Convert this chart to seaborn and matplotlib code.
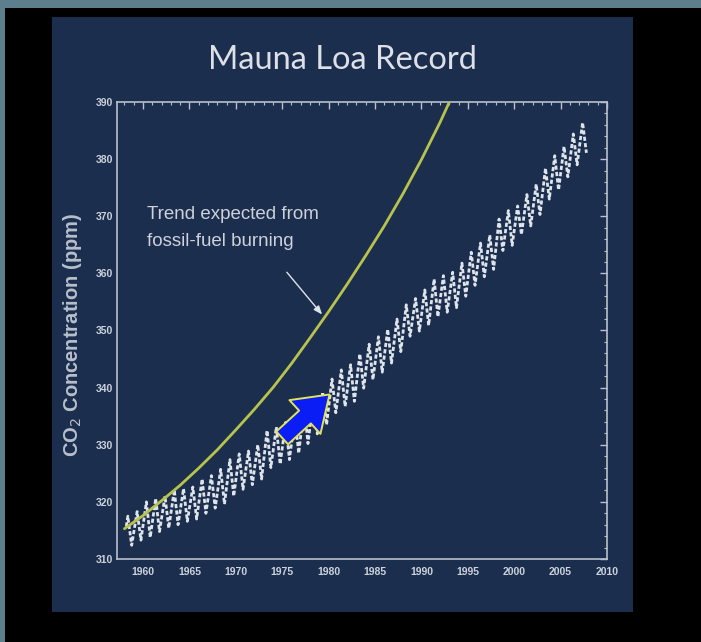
import numpy as np
import pandas as pd
import matplotlib
matplotlib.use("Agg")
import matplotlib.pyplot as plt
from matplotlib.patches import Rectangle
from matplotlib.ticker import MultipleLocator
import seaborn as sns

# ---------------- data ----------------
obs_years = list(range(1958, 2008))
# May maxima of the Mauna Loa record (ppm)
obs_peak = [317.5, 318.3, 320.0, 320.6, 321.0, 322.1, 322.3, 322.6, 324.0, 324.6,
            325.7, 327.4, 328.4, 328.9, 330.0, 332.5, 333.1, 333.9, 334.9, 336.9,
            338.2, 339.2, 341.5, 343.1, 344.0, 345.9, 347.6, 348.9, 350.2, 352.0,
            354.5, 355.6, 357.1, 359.0, 359.6, 360.2, 361.8, 363.7, 365.3, 366.7,
            369.5, 371.0, 371.8, 373.8, 375.6, 378.4, 380.6, 382.2, 384.4, 386.4]
# autumn minima (ppm)
obs_trough = [312.4, 313.3, 313.8, 314.8, 315.4, 316.0, 316.6, 317.0, 318.0, 318.9,
              319.6, 321.0, 322.2, 323.0, 324.0, 326.0, 326.6, 327.4, 328.5, 330.2,
              331.9, 333.5, 335.6, 336.7, 337.6, 339.9, 341.4, 342.7, 344.3, 346.3,
              349.0, 349.9, 350.9, 352.4, 353.2, 354.0, 356.0, 357.9, 359.4, 360.7,
              364.0, 364.9, 366.8, 368.3, 370.3, 373.0, 374.6, 376.9, 379.0, 381.1]
obs_start = (1958.2, 315.7)

trend_years = [1958, 1960, 1962, 1964, 1966, 1968, 1970, 1972, 1974, 1976,
               1978, 1980, 1982, 1984, 1986, 1988, 1990, 1992, 1994]
trend_ppm = [315.3, 317.6, 320.2, 322.9, 325.9, 329.1, 332.6, 336.2, 340.0, 344.2,
             348.7, 353.3, 358.1, 363.1, 368.3, 373.9, 379.9, 386.4, 393.5]

x_ticks = [1960, 1965, 1970, 1975, 1980, 1985, 1990, 1995, 2000, 2005, 2010]
y_ticks = [310, 320, 330, 340, 350, 360, 370, 380, 390]

# ---------------- tables ----------------
t_list, v_list = [obs_start[0]], [obs_start[1]]
for yr, pk, tr in zip(obs_years, obs_peak, obs_trough):
    t_list += [yr + 0.37, yr + 0.78]
    v_list += [pk, tr]
obs_df = pd.DataFrame({"year": t_list, "ppm": v_list})
trend_df = pd.DataFrame({"year": trend_years, "ppm": trend_ppm})

# ---------------- style ----------------
sns.set_style("dark")
plt.rcParams["font.family"] = ["Liberation Sans", "DejaVu Sans"]

NAVY = "#1c2e4e"
LIGHT = "#ccd2dc"

fig = plt.figure(figsize=(7.01, 6.42), dpi=100, facecolor="#5d7f8d")
W, H = 701, 642
# black frame
fig.patches.append(Rectangle((5 / W, 0), 1, 1 - 8 / H, transform=fig.transFigure,
                             facecolor="black", edgecolor="none", zorder=-3))
# navy slide panel
fig.patches.append(Rectangle((52 / W, 1 - 612 / H), (633 - 52) / W, (612 - 17) / H,
                             transform=fig.transFigure, facecolor=NAVY,
                             edgecolor="none", zorder=-2))

ax = fig.add_axes([117 / W, 1 - 559 / H, (607 - 117) / W, (559 - 102) / H])
ax.set_facecolor(NAVY)

sns.lineplot(data=trend_df, x="year", y="ppm", ax=ax, color="#b7c34d",
             linewidth=2.0, sort=False, zorder=3)
sns.lineplot(data=obs_df, x="year", y="ppm", ax=ax, color="#dfe3ea",
             linewidth=2.0, sort=False, zorder=2)
ax.lines[-1].set_linestyle((0, (1.5, 0.8)))

ax.set_xlim(1957.2, 2009.8)
ax.set_ylim(310, 390)
ax.set_xticks(x_ticks)
ax.set_yticks(y_ticks)
ax.xaxis.set_minor_locator(MultipleLocator(1))
ax.yaxis.set_minor_locator(MultipleLocator(2))
ax.tick_params(which="both", direction="in", top=True, right=True,
               color="#b8c0cc", labelcolor=LIGHT)
ax.tick_params(which="major", length=5, width=1.0, labelsize=7.5)
ax.tick_params(which="minor", length=2.5, width=0.8)
ax.tick_params(axis="x", pad=6)
ax.tick_params(axis="y", pad=3)
for lab in ax.get_xticklabels() + ax.get_yticklabels():
    lab.set_fontweight("bold")
for sp in ax.spines.values():
    sp.set_visible(True)
    sp.set_color("#b8c0cc")
    sp.set_linewidth(1.2)
ax.grid(False)

ax.set_xlabel("")
ax.set_ylabel("CO$_2$ Concentration (ppm)", color="#b8bfcb", fontsize=14.5,
              fontweight="bold")
ax.yaxis.set_label_coords(-0.068, 0.49)

# annotation text + pointer
ax.text(1960.4, 368.0, "Trend expected from\nfossil-fuel burning", color="#cdd1da",
        fontsize=13.5, ha="left", va="center", linespacing=1.75)
ax.annotate("", xy=(1979.3, 352.8), xytext=(1975.5, 360.2),
            arrowprops=dict(arrowstyle="-|>,head_length=0.5,head_width=0.2",
                            color="#dfe3ea", lw=1.0, shrinkA=0, shrinkB=0))

# blue block arrow
ax.annotate("", xy=(1980.1, 338.8), xytext=(1975.0, 331.2),
            arrowprops=dict(arrowstyle="simple,head_length=2.4,head_width=3.3,tail_width=1.25",
                            mutation_scale=10, facecolor="#0b1df5",
                            edgecolor="#e2e35a", lw=1.4, shrinkA=0, shrinkB=0),
            zorder=5)

fig.text(342 / W, 1 - 60 / H, "Mauna Loa Record", color="#dde0e6", fontsize=23.5,
         family=["Lato", "DejaVu Sans"], ha="center", va="center")

fig.savefig("out.png", dpi=100, facecolor=fig.get_facecolor())
